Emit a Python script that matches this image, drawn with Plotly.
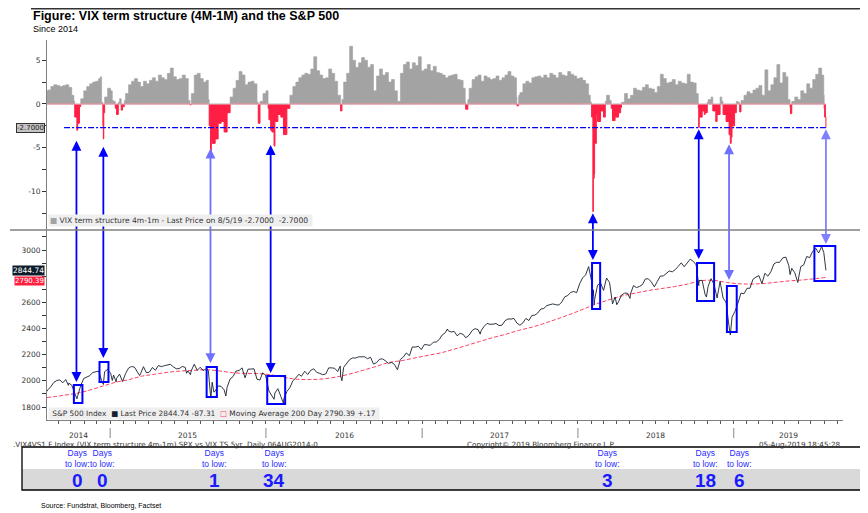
import plotly.graph_objects as go
import datetime as _dt

# ---------------- data ----------------
VIX_TS = [  # VIX term structure 4m-1m (date, value)
    ("2014-08-06", 1.5), ("2014-08-08", 1.6), ("2014-08-15", 2.0), ("2014-08-22", 2.2), ("2014-08-29", 2.1),
    ("2014-09-05", 2.0), ("2014-09-12", 2.1), ("2014-09-19", 2.2), ("2014-09-26", 1.9), ("2014-10-03", 1.0),
    ("2014-10-08", 0.3), ("2014-10-10", -1.5), ("2014-10-15", -3.0), ("2014-10-17", -2.2), ("2014-10-21", -0.3),
    ("2014-10-24", 0.6), ("2014-10-31", 1.5), ("2014-11-07", 2.0), ("2014-11-14", 2.3), ("2014-11-21", 2.5),
    ("2014-11-28", 2.6), ("2014-12-05", 2.9), ("2014-12-09", 3.1), ("2014-12-12", 0.2), ("2014-12-15", -2.5),
    ("2014-12-16", -4.0), ("2014-12-17", -1.0), ("2014-12-19", 0.8), ("2014-12-26", 1.8),
    ("2015-01-02", 1.5), ("2015-01-06", 0.4), ("2015-01-09", 0.3), ("2015-01-13", -0.5), ("2015-01-16", -1.2),
    ("2015-01-20", 0.2), ("2015-01-23", 0.6), ("2015-01-27", -0.7), ("2015-01-30", -0.3), ("2015-02-03", 0.4),
    ("2015-02-06", 1.2), ("2015-02-13", 2.2), ("2015-02-20", 2.6), ("2015-02-27", 2.9), ("2015-03-06", 2.5),
    ("2015-03-13", 2.0), ("2015-03-20", 2.6), ("2015-03-27", 2.3), ("2015-04-03", 2.7), ("2015-04-10", 3.0),
    ("2015-04-17", 2.6), ("2015-04-24", 3.3), ("2015-05-01", 3.0), ("2015-05-08", 2.8), ("2015-05-15", 3.5),
    ("2015-05-22", 4.1), ("2015-05-29", 3.1), ("2015-06-05", 2.8), ("2015-06-12", 2.9), ("2015-06-19", 3.3),
    ("2015-06-26", 2.9), ("2015-07-03", 0.4), ("2015-07-07", -0.1), ("2015-07-10", 1.2), ("2015-07-17", 3.3),
    ("2015-07-24", 3.5), ("2015-07-31", 2.9), ("2015-08-07", 2.5), ("2015-08-14", 2.7), ("2015-08-19", 0.5),
    ("2015-08-21", -2.5), ("2015-08-24", -5.8), ("2015-08-26", -4.2), ("2015-08-28", -4.5), ("2015-09-04", -4.0),
    ("2015-09-11", -2.2), ("2015-09-18", -2.0), ("2015-09-25", -3.2), ("2015-10-02", -1.0), ("2015-10-09", 0.8),
    ("2015-10-16", 1.8), ("2015-10-23", 2.7), ("2015-10-30", 3.7), ("2015-11-06", 3.3), ("2015-11-13", 2.2),
    ("2015-11-20", 2.5), ("2015-11-27", 2.6), ("2015-12-04", 2.3), ("2015-12-11", 0.2), ("2015-12-14", -2.2),
    ("2015-12-18", 0.3), ("2015-12-25", 1.2),
    ("2016-01-01", 1.5), ("2016-01-06", -0.5), ("2016-01-08", -1.8), ("2016-01-12", -3.0), ("2016-01-15", -3.2),
    ("2016-01-20", -4.8), ("2016-01-22", -2.0), ("2016-01-29", -1.2), ("2016-02-05", -1.5), ("2016-02-11", -3.5),
    ("2016-02-19", -0.5), ("2016-02-26", 1.0), ("2016-03-04", 2.0), ("2016-03-11", 2.5), ("2016-03-18", 3.0),
    ("2016-03-25", 3.3), ("2016-04-01", 3.5), ("2016-04-08", 3.4), ("2016-04-15", 4.0), ("2016-04-22", 5.4),
    ("2016-04-29", 3.8), ("2016-05-06", 3.3), ("2016-05-13", 2.9), ("2016-05-20", 3.0), ("2016-05-27", 4.0),
    ("2016-06-03", 3.5), ("2016-06-10", 2.6), ("2016-06-17", 1.0), ("2016-06-24", -0.8), ("2016-06-27", 0.5),
    ("2016-07-01", 2.5), ("2016-07-08", 3.5), ("2016-07-15", 6.6), ("2016-07-22", 5.0), ("2016-07-29", 4.2),
    ("2016-08-05", 4.7), ("2016-08-12", 5.3), ("2016-08-19", 5.0), ("2016-08-26", 4.2), ("2016-09-02", 4.5),
    ("2016-09-09", 1.5), ("2016-09-16", 3.2), ("2016-09-23", 4.0), ("2016-09-30", 3.3), ("2016-10-07", 3.6),
    ("2016-10-14", 2.5), ("2016-10-21", 2.8), ("2016-10-28", 1.5), ("2016-11-04", 0.3), ("2016-11-11", 3.5),
    ("2016-11-18", 4.5), ("2016-11-25", 4.8), ("2016-12-02", 4.0), ("2016-12-09", 4.7), ("2016-12-16", 4.4),
    ("2016-12-23", 5.4), ("2016-12-30", 3.8),
    ("2017-01-06", 4.0), ("2017-01-13", 4.5), ("2017-01-20", 3.8), ("2017-01-27", 4.3), ("2017-02-03", 3.6),
    ("2017-02-10", 3.5), ("2017-02-17", 3.3), ("2017-02-24", 3.0), ("2017-03-03", 3.2), ("2017-03-10", 3.3),
    ("2017-03-17", 3.4), ("2017-03-24", 2.8), ("2017-03-31", 2.7), ("2017-04-07", 1.8), ("2017-04-12", 0.2),
    ("2017-04-13", -0.6), ("2017-04-18", 0.5), ("2017-04-21", 1.8), ("2017-04-28", 2.8), ("2017-05-05", 3.1),
    ("2017-05-12", 3.3), ("2017-05-19", 2.6), ("2017-05-26", 3.2), ("2017-06-02", 3.0), ("2017-06-09", 2.8),
    ("2017-06-16", 2.9), ("2017-06-23", 3.2), ("2017-06-30", 2.7), ("2017-07-07", 3.0), ("2017-07-14", 3.3),
    ("2017-07-21", 3.7), ("2017-07-28", 3.2), ("2017-08-04", 3.0), ("2017-08-10", 0.8), ("2017-08-11", -0.2),
    ("2017-08-15", 1.0), ("2017-08-18", 1.3), ("2017-08-25", 2.3), ("2017-09-01", 2.6), ("2017-09-08", 2.4),
    ("2017-09-15", 3.0), ("2017-09-22", 3.1), ("2017-09-29", 3.2), ("2017-10-06", 3.0), ("2017-10-13", 3.3),
    ("2017-10-20", 3.0), ("2017-10-27", 3.5), ("2017-11-03", 3.3), ("2017-11-10", 3.0), ("2017-11-17", 3.6),
    ("2017-11-24", 3.3), ("2017-12-01", 3.2), ("2017-12-08", 3.7), ("2017-12-15", 3.4), ("2017-12-22", 3.2),
    ("2017-12-29", 2.9),
    ("2018-01-05", 3.0), ("2018-01-12", 2.7), ("2018-01-19", 2.3), ("2018-01-26", 1.0), ("2018-01-30", 0.2),
    ("2018-02-02", -1.5), ("2018-02-05", -12.3), ("2018-02-06", -8.5), ("2018-02-08", -8.0), ("2018-02-09", -4.5),
    ("2018-02-13", -1.2), ("2018-02-16", -2.0), ("2018-02-23", -0.8), ("2018-03-02", -1.5), ("2018-03-06", 0.3),
    ("2018-03-09", 1.0), ("2018-03-16", 0.4), ("2018-03-20", -0.5), ("2018-03-23", -1.9), ("2018-03-29", -1.5),
    ("2018-04-06", -1.0), ("2018-04-11", -0.4), ("2018-04-13", 0.2), ("2018-04-20", 1.2), ("2018-04-27", 0.6),
    ("2018-05-04", 1.0), ("2018-05-11", 1.8), ("2018-05-18", 1.6), ("2018-05-25", 1.5), ("2018-06-01", 1.9),
    ("2018-06-08", 2.2), ("2018-06-15", 1.8), ("2018-06-22", 1.7), ("2018-06-29", 1.3), ("2018-07-06", 2.0),
    ("2018-07-13", 3.4), ("2018-07-20", 2.9), ("2018-07-27", 2.4), ("2018-08-03", 2.5), ("2018-08-10", 2.8),
    ("2018-08-17", 2.2), ("2018-08-24", 2.6), ("2018-08-31", 2.4), ("2018-09-07", 2.3), ("2018-09-14", 3.4),
    ("2018-09-21", 2.5), ("2018-09-28", 2.4), ("2018-10-05", 1.2), ("2018-10-10", -0.5), ("2018-10-11", -2.7),
    ("2018-10-12", -1.5), ("2018-10-19", -0.8), ("2018-10-24", -1.2), ("2018-10-26", -1.0), ("2018-10-31", 0.2),
    ("2018-11-02", 0.5), ("2018-11-09", 0.8), ("2018-11-13", -0.8), ("2018-11-20", -2.0), ("2018-11-23", -1.2),
    ("2018-11-30", 0.8), ("2018-12-04", 0.3), ("2018-12-07", -1.2), ("2018-12-14", -2.0), ("2018-12-21", -3.5),
    ("2018-12-24", -4.5), ("2018-12-26", -3.8), ("2018-12-28", -2.5),
    ("2019-01-03", -1.0), ("2019-01-07", 0.3), ("2019-01-11", 0.2), ("2019-01-15", -0.9), ("2019-01-18", 0.4),
    ("2019-01-25", 1.0), ("2019-02-01", 1.4), ("2019-02-08", 1.2), ("2019-02-15", 1.6), ("2019-02-22", 1.8),
    ("2019-03-01", 2.1), ("2019-03-08", 1.0), ("2019-03-15", 3.9), ("2019-03-22", 1.5), ("2019-03-29", 2.2),
    ("2019-04-05", 3.0), ("2019-04-12", 4.5), ("2019-04-19", 2.4), ("2019-04-26", 3.6), ("2019-05-03", 3.1),
    ("2019-05-08", 0.5), ("2019-05-13", -0.4), ("2019-05-14", -1.1), ("2019-05-17", 0.3), ("2019-05-24", 0.8),
    ("2019-05-31", 0.5), ("2019-06-07", 1.5), ("2019-06-14", 1.2), ("2019-06-21", 2.3), ("2019-06-28", 1.8),
    ("2019-07-05", 2.8), ("2019-07-12", 3.4), ("2019-07-19", 4.1), ("2019-07-26", 3.3), ("2019-07-31", 1.0),
    ("2019-08-01", -0.5), ("2019-08-02", -1.5), ("2019-08-05", -2.7),
]

SPX = [  # S&P 500 last price (date, value)
    ("2014-08-06", 1920), ("2014-08-08", 1931), ("2014-08-15", 1955), ("2014-08-22", 1988), ("2014-08-29", 2003),
    ("2014-09-05", 2007), ("2014-09-12", 1985), ("2014-09-19", 2010), ("2014-09-25", 1966), ("2014-09-26", 1982),
    ("2014-10-03", 1967), ("2014-10-10", 1906), ("2014-10-13", 1874), ("2014-10-15", 1862), ("2014-10-17", 1886),
    ("2014-10-24", 1964), ("2014-10-31", 2018), ("2014-11-07", 2031), ("2014-11-14", 2039), ("2014-11-21", 2063),
    ("2014-11-28", 2067), ("2014-12-05", 2075), ("2014-12-12", 2002), ("2014-12-16", 1972), ("2014-12-19", 2070),
    ("2014-12-26", 2088),
    ("2015-01-02", 2058), ("2015-01-06", 2003), ("2015-01-09", 2044), ("2015-01-15", 1992), ("2015-01-16", 2019),
    ("2015-01-23", 2051), ("2015-01-30", 1995), ("2015-02-06", 2055), ("2015-02-13", 2097), ("2015-02-20", 2110),
    ("2015-02-27", 2104), ("2015-03-06", 2071), ("2015-03-11", 2040), ("2015-03-13", 2053), ("2015-03-20", 2108),
    ("2015-03-27", 2061), ("2015-04-03", 2067), ("2015-04-10", 2102), ("2015-04-17", 2081), ("2015-04-24", 2117),
    ("2015-05-01", 2108), ("2015-05-08", 2116), ("2015-05-15", 2123), ("2015-05-22", 2126), ("2015-05-29", 2107),
    ("2015-06-05", 2092), ("2015-06-12", 2094), ("2015-06-19", 2110), ("2015-06-26", 2102), ("2015-06-29", 2058),
    ("2015-07-02", 2076), ("2015-07-08", 2047), ("2015-07-10", 2077), ("2015-07-17", 2127), ("2015-07-24", 2080),
    ("2015-07-31", 2104), ("2015-08-07", 2078), ("2015-08-14", 2092), ("2015-08-19", 2079), ("2015-08-21", 1971),
    ("2015-08-24", 1893), ("2015-08-25", 1868), ("2015-08-28", 1989), ("2015-09-01", 1914), ("2015-09-04", 1921),
    ("2015-09-11", 1961), ("2015-09-18", 1958), ("2015-09-25", 1931), ("2015-09-29", 1884), ("2015-10-02", 1951),
    ("2015-10-09", 2014), ("2015-10-16", 2033), ("2015-10-23", 2075), ("2015-10-30", 2079), ("2015-11-06", 2099),
    ("2015-11-13", 2023), ("2015-11-20", 2089), ("2015-11-27", 2090), ("2015-12-04", 2092), ("2015-12-11", 2012),
    ("2015-12-18", 2006), ("2015-12-24", 2061), ("2015-12-31", 2044),
    ("2016-01-08", 1922), ("2016-01-15", 1880), ("2016-01-20", 1859), ("2016-01-22", 1907), ("2016-01-29", 1940),
    ("2016-02-05", 1880), ("2016-02-11", 1829), ("2016-02-12", 1865), ("2016-02-19", 1918), ("2016-02-26", 1948),
    ("2016-03-04", 2000), ("2016-03-11", 2022), ("2016-03-18", 2050), ("2016-03-24", 2035), ("2016-04-01", 2073),
    ("2016-04-08", 2048), ("2016-04-15", 2081), ("2016-04-22", 2092), ("2016-04-29", 2065), ("2016-05-06", 2057),
    ("2016-05-13", 2047), ("2016-05-20", 2052), ("2016-05-27", 2099), ("2016-06-03", 2099), ("2016-06-10", 2096),
    ("2016-06-17", 2071), ("2016-06-23", 2113), ("2016-06-24", 2037), ("2016-06-27", 2001), ("2016-07-01", 2103),
    ("2016-07-08", 2130), ("2016-07-15", 2162), ("2016-07-22", 2175), ("2016-07-29", 2174), ("2016-08-05", 2183),
    ("2016-08-12", 2184), ("2016-08-19", 2184), ("2016-08-26", 2169), ("2016-09-02", 2180), ("2016-09-09", 2128),
    ("2016-09-16", 2139), ("2016-09-23", 2165), ("2016-09-30", 2168), ("2016-10-07", 2153), ("2016-10-14", 2133),
    ("2016-10-21", 2141), ("2016-10-28", 2126), ("2016-11-04", 2085), ("2016-11-11", 2164), ("2016-11-18", 2182),
    ("2016-11-25", 2213), ("2016-12-02", 2192), ("2016-12-09", 2259), ("2016-12-16", 2258), ("2016-12-23", 2264),
    ("2016-12-30", 2239),
    ("2017-01-06", 2277), ("2017-01-13", 2275), ("2017-01-20", 2271), ("2017-01-27", 2295), ("2017-02-03", 2297),
    ("2017-02-10", 2316), ("2017-02-17", 2351), ("2017-02-24", 2367), ("2017-03-01", 2396), ("2017-03-03", 2383),
    ("2017-03-10", 2373), ("2017-03-17", 2378), ("2017-03-24", 2344), ("2017-03-31", 2363), ("2017-04-07", 2355),
    ("2017-04-13", 2329), ("2017-04-21", 2349), ("2017-04-28", 2384), ("2017-05-05", 2399), ("2017-05-12", 2391),
    ("2017-05-17", 2357), ("2017-05-19", 2382), ("2017-05-26", 2416), ("2017-06-02", 2439), ("2017-06-09", 2432),
    ("2017-06-16", 2433), ("2017-06-23", 2438), ("2017-06-30", 2423), ("2017-07-07", 2425), ("2017-07-14", 2459),
    ("2017-07-21", 2473), ("2017-07-28", 2472), ("2017-08-04", 2477), ("2017-08-11", 2441), ("2017-08-18", 2425),
    ("2017-08-25", 2443), ("2017-09-01", 2477), ("2017-09-08", 2461), ("2017-09-15", 2500), ("2017-09-22", 2502),
    ("2017-09-29", 2519), ("2017-10-06", 2549), ("2017-10-13", 2553), ("2017-10-20", 2575), ("2017-10-27", 2581),
    ("2017-11-03", 2588), ("2017-11-10", 2582), ("2017-11-17", 2579), ("2017-11-24", 2602), ("2017-12-01", 2642),
    ("2017-12-08", 2652), ("2017-12-15", 2676), ("2017-12-22", 2683), ("2017-12-29", 2674),
    ("2018-01-05", 2743), ("2018-01-12", 2787), ("2018-01-19", 2810), ("2018-01-26", 2873), ("2018-02-02", 2762),
    ("2018-02-05", 2649), ("2018-02-06", 2696), ("2018-02-08", 2581), ("2018-02-09", 2620), ("2018-02-16", 2732),
    ("2018-02-23", 2747), ("2018-03-02", 2691), ("2018-03-09", 2786), ("2018-03-16", 2752), ("2018-03-23", 2588),
    ("2018-03-29", 2641), ("2018-04-02", 2582), ("2018-04-06", 2604), ("2018-04-13", 2656), ("2018-04-20", 2670),
    ("2018-04-27", 2670), ("2018-05-03", 2630), ("2018-05-04", 2663), ("2018-05-11", 2728), ("2018-05-18", 2713),
    ("2018-05-25", 2721), ("2018-06-01", 2735), ("2018-06-08", 2779), ("2018-06-15", 2780), ("2018-06-22", 2755),
    ("2018-06-29", 2718), ("2018-07-06", 2760), ("2018-07-13", 2801), ("2018-07-20", 2802), ("2018-07-27", 2819),
    ("2018-08-03", 2840), ("2018-08-10", 2833), ("2018-08-17", 2850), ("2018-08-24", 2875), ("2018-08-31", 2902),
    ("2018-09-07", 2872), ("2018-09-14", 2905), ("2018-09-21", 2930), ("2018-09-28", 2914), ("2018-10-05", 2886),
    ("2018-10-11", 2728), ("2018-10-12", 2767), ("2018-10-19", 2768), ("2018-10-26", 2659), ("2018-10-29", 2641),
    ("2018-11-02", 2723), ("2018-11-09", 2781), ("2018-11-16", 2736), ("2018-11-23", 2633), ("2018-11-30", 2760),
    ("2018-12-07", 2633), ("2018-12-14", 2600), ("2018-12-21", 2417), ("2018-12-24", 2351), ("2018-12-28", 2486),
    ("2019-01-04", 2532), ("2019-01-11", 2596), ("2019-01-18", 2671), ("2019-01-25", 2665), ("2019-02-01", 2707),
    ("2019-02-08", 2708), ("2019-02-15", 2776), ("2019-02-22", 2793), ("2019-03-01", 2804), ("2019-03-08", 2743),
    ("2019-03-15", 2822), ("2019-03-22", 2800), ("2019-03-29", 2834), ("2019-04-05", 2893), ("2019-04-12", 2907),
    ("2019-04-18", 2905), ("2019-04-26", 2940), ("2019-05-03", 2946), ("2019-05-10", 2881), ("2019-05-13", 2812),
    ("2019-05-17", 2860), ("2019-05-24", 2826), ("2019-05-31", 2752), ("2019-06-07", 2873), ("2019-06-14", 2887),
    ("2019-06-21", 2950), ("2019-06-28", 2942), ("2019-07-05", 2990), ("2019-07-12", 3014), ("2019-07-19", 2977),
    ("2019-07-26", 3026), ("2019-07-31", 2980), ("2019-08-02", 2932), ("2019-08-05", 2844.74),
]

MA200 = [  # 200-day moving average (date, value)
    ("2014-08-06", 1872), ("2014-09-15", 1890), ("2014-10-15", 1905), ("2014-11-15", 1930), ("2014-12-15", 1960),
    ("2015-01-15", 1990), ("2015-02-15", 2010), ("2015-03-15", 2035), ("2015-04-15", 2050), ("2015-05-15", 2065),
    ("2015-06-15", 2075), ("2015-07-15", 2080), ("2015-08-15", 2085), ("2015-09-15", 2075), ("2015-10-15", 2062),
    ("2015-11-15", 2057), ("2015-12-15", 2055), ("2016-01-15", 2045), ("2016-02-15", 2025), ("2016-03-15", 2012),
    ("2016-04-15", 2010), ("2016-05-15", 2015), ("2016-06-15", 2030), ("2016-07-15", 2052), ("2016-08-15", 2080),
    ("2016-09-15", 2110), ("2016-10-15", 2140), ("2016-11-15", 2155), ("2016-12-15", 2175), ("2017-01-15", 2195),
    ("2017-02-15", 2215), ("2017-03-15", 2240), ("2017-04-15", 2270), ("2017-05-15", 2300), ("2017-06-15", 2330),
    ("2017-07-15", 2355), ("2017-08-15", 2385), ("2017-09-15", 2410), ("2017-10-15", 2440), ("2017-11-15", 2475),
    ("2017-12-15", 2510), ("2018-01-15", 2550), ("2018-02-15", 2590), ("2018-03-15", 2620), ("2018-04-15", 2650),
    ("2018-05-15", 2670), ("2018-06-15", 2690), ("2018-07-15", 2705), ("2018-08-15", 2720), ("2018-09-15", 2740),
    ("2018-10-15", 2765), ("2018-11-15", 2768), ("2018-12-15", 2752), ("2019-01-15", 2742), ("2019-02-15", 2740),
    ("2019-03-15", 2745), ("2019-04-15", 2755), ("2019-05-15", 2765), ("2019-06-15", 2772), ("2019-07-15", 2782),
    ("2019-08-05", 2790.39),
]

THRESHOLD = -2.7
SPX_CHANGE = "-87.31"
MA_CHANGE = "+.17"

# arrows: date, VIX level at top tip, S&P level at bottom tip
ARROW_DATES = ["2014-10-14", "2014-12-16", "2015-08-24", "2016-01-12",
               "2018-02-05", "2018-10-11", "2018-12-21", "2019-08-05"]
ARROW_VIX = [-4.2, -4.9, -5.1, -4.7, -12.5, -2.9, -4.6, -2.9]
ARROW_SPX = [1991, 2175, 2136, 2060, 2924, 2931, 2771, 3046]
ARROW_COLORS = ["#0000ff", "#0000ff", "#7070ff", "#0000ff", "#0000ff", "#0000ff", "#7070ff", "#8080ff"]

# highlight boxes: date range, price range
BOX_X0 = ["2014-10-08", "2014-12-07", "2015-08-15", "2016-01-04", "2018-02-03", "2018-10-07", "2018-12-16", "2019-07-09"]
BOX_X1 = ["2014-10-28", "2014-12-28", "2015-09-08", "2016-02-15", "2018-02-22", "2018-11-16", "2019-01-08", "2019-08-27"]
BOX_Y0 = [1831, 1991, 1876, 1823, 2549, 2610, 2373, 2763]
BOX_Y1 = [1968, 2144, 2106, 2037, 2901, 2901, 2725, 3031]

DAYS_TO_LOW = [0, 0, 1, 34, 3, 18, 6]
YEARS = [2014, 2015, 2016, 2017, 2018, 2019]

# ---------------- layout helpers ----------------
# page body has an 8px margin, so the figure is drawn 8px smaller and offset
OFF = 8
W, H = 868 - OFF, 513 - OFF
L, R, T, B = 47 - OFF, 25, 40 - OFF, 93
PW, PH = W - L - R, H - T - B
X_RANGE = ["2014-08-06", "2019-09-14"]
TOP_RANGE = [-14.4, 7.31]
BOT_RANGE = [1700.6, 3152.9]
TOP_DOM = [0.5, 1.0]
BOT_DOM = [0.0, 0.5]


def py(y):  # reference-pixel y -> paper
    return (H - B - (y - OFF)) / PH


def px(x):  # reference-pixel x -> paper
    return ((x - OFF) - L) / PW


def vix_paper(v):
    return TOP_DOM[0] + (v - TOP_RANGE[0]) / (TOP_RANGE[1] - TOP_RANGE[0]) * (TOP_DOM[1] - TOP_DOM[0])


def spx_paper(v):
    return BOT_DOM[0] + (v - BOT_RANGE[0]) / (BOT_RANGE[1] - BOT_RANGE[0]) * (BOT_DOM[1] - BOT_DOM[0])


vix_dates = [d for d, _ in VIX_TS]
vix_vals = [v for _, v in VIX_TS]
vix_pos = [max(v, 0) for v in vix_vals]
vix_neg = [min(v, 0) for v in vix_vals]
spx_dates = [d for d, _ in SPX]
spx_vals = [v for _, v in SPX]
ma_dates = [d for d, _ in MA200]
ma_vals = [v for _, v in MA200]

GRAY = "#a3a3a3"
RED = "#ff1f44"
BLUE = "#0000ff"
FONT = "DejaVu Sans"
NARROW = "Liberation Sans Narrow, Arial Narrow, Liberation Sans"

fig = go.Figure()
fig.add_trace(go.Scatter(x=vix_dates, y=vix_pos, mode="lines", line=dict(color=GRAY, width=0.6, shape="hv"),
                         fill="tozeroy", fillcolor=GRAY, xaxis="x", yaxis="y2", hoverinfo="skip"))
fig.add_trace(go.Scatter(x=vix_dates, y=vix_neg, mode="lines", line=dict(color=RED, width=1, shape="hv"),
                         fill="tozeroy", fillcolor=RED, xaxis="x", yaxis="y2", hoverinfo="skip"))
fig.add_trace(go.Scatter(x=ma_dates, y=ma_vals, mode="lines",
                         line=dict(color="#ff4060", width=1, dash="4px,2px", shape="spline"),
                         xaxis="x", yaxis="y"))
fig.add_trace(go.Scatter(x=spx_dates, y=spx_vals, mode="lines", line=dict(color="#16202c", width=0.9),
                         xaxis="x", yaxis="y"))

shapes = []
annotations = []


def note(xr, yr, text, size, family=FONT, color="#333333", xanchor="center", **kw):
    annotations.append(dict(x=px(xr), xref="paper", y=py(yr), yref="paper", text=text, showarrow=False,
                            xanchor=xanchor, yanchor="middle", font=dict(family=family, size=size, color=color), **kw))


# light baseline at zero on the top panel
shapes.append(dict(type="line", xref="x", yref="y2", x0=vix_dates[0], x1=vix_dates[-1], y0=0, y1=0,
                   line=dict(color="#cfcfcf", width=1.2), layer="above"))
# threshold line on top panel
shapes.append(dict(type="line", xref="x", yref="y2", x0="2014-09-15", x1=vix_dates[-1], y0=THRESHOLD, y1=THRESHOLD,
                   line=dict(color=BLUE, width=1.3, dash="6px,2px,2px,2px")))
# highlight boxes
for x0, x1, y0, y1 in zip(BOX_X0, BOX_X1, BOX_Y0, BOX_Y1):
    shapes.append(dict(type="rect", xref="x", yref="y", x0=x0, x1=x1, y0=y0, y1=y1,
                       line=dict(color=BLUE, width=2)))
# arrows: shaft as shape, heads as short annotations
for d, v, s, c in zip(ARROW_DATES, ARROW_VIX, ARROW_SPX, ARROW_COLORS):
    shapes.append(dict(type="line", xref="x", yref="paper", x0=d, x1=d, y0=spx_paper(s) + 0.012,
                       y1=vix_paper(v) - 0.012, line=dict(color=c, width=1.8)))
    annotations.append(dict(x=d, xref="x", y=s, yref="y", ax=0, ay=-9, text="", showarrow=True,
                            arrowhead=2, arrowsize=1.1, arrowwidth=1.8, arrowcolor=c))
    annotations.append(dict(x=d, xref="x", y=v, yref="y2", ax=0, ay=9, text="", showarrow=True,
                            arrowhead=2, arrowsize=1.1, arrowwidth=1.8, arrowcolor=c))

# panel separator, header rule
shapes.append(dict(type="line", xref="paper", yref="paper", x0=px(10), x1=px(860), y0=0.5, y1=0.5,
                   line=dict(color="#808080", width=1.5)))
shapes.append(dict(type="line", xref="paper", yref="paper", x0=px(31), x1=px(860), y0=py(8.8), y1=py(8.8),
                   line=dict(color="#333333", width=1.5)))
# year separators on x axis
for yr in YEARS[1:]:
    shapes.append(dict(type="line", xref="x", yref="paper", x0=f"{yr}-01-01", x1=f"{yr}-01-01",
                       y0=py(428), y1=py(438), line=dict(color="#888888", width=1)))
# year labels centred in visible part of each year
x_lo = _dt.date.fromisoformat(X_RANGE[0])
x_hi = _dt.date.fromisoformat(X_RANGE[1])
for yr in YEARS:
    a = max(_dt.date(yr, 1, 1), x_lo)
    b = min(_dt.date(yr + 1, 1, 1), x_hi)
    mid = a + (b - a) / 2
    annotations.append(dict(x=mid.isoformat(), xref="x", y=py(435), yref="paper", text=str(yr), showarrow=False,
                            yanchor="middle", font=dict(family=FONT, size=7.5, color="#333333")))

# table
shapes.append(dict(type="rect", xref="paper", yref="paper", x0=px(22), x1=px(862), y0=py(469), y1=py(490),
                   fillcolor="#d9d9d9", line=dict(width=0), layer="below"))
shapes.append(dict(type="rect", xref="paper", yref="paper", x0=px(22), x1=px(862), y0=py(447), y1=py(490),
                   line=dict(color="#000000", width=1.3)))
TABLE_X = [77, 102, 214, 274, 607, 705, 739]
for xx, n in zip(TABLE_X, DAYS_TO_LOW):
    note(xx, 458.5, "Days<br>to low:", 8.5, family=NARROW, color="#2a2aff")
    note(xx, 480, f"<b>{n}</b>", 19, family=NARROW, color="#1a1aff")

# legends inside panels
note(48, 220.5, f"<span style='color:{GRAY}'>■</span> VIX term structure 4m-1m - Last Price on 8/5/19 "
                f"{vix_vals[-1]:.4f}  {vix_vals[-1]:.4f} ", 7.6, xanchor="left", bgcolor="#efefef")
note(48, 413.5, f" S&P 500 Index  <span style='color:#16202c'>■</span> Last Price {spx_vals[-1]:.2f} {SPX_CHANGE}  "
                f"<span style='color:#ff4060'>□</span> Moving Average 200 Day {ma_vals[-1]:.2f} {MA_CHANGE} ",
     7.4, xanchor="left", bgcolor="#efefef")

# price tags on left axis
annotations.append(dict(x=px(44.5), xref="paper", y=THRESHOLD, yref="y2", xanchor="right", yanchor="middle",
                        text=f"{vix_vals[-1]:.4f}", showarrow=False, bgcolor="#c4c4c4", bordercolor="#333333",
                        borderwidth=1, borderpad=0, font=dict(family=FONT, size=7, color="#222222")))
annotations.append(dict(x=px(44.5), xref="paper", y=ma_vals[-1] - 30, yref="y", xanchor="right", yanchor="middle",
                        text=f"{ma_vals[-1]:.2f}", showarrow=False, bgcolor="#ff2040", borderpad=0,
                        font=dict(family=FONT, size=7, color="#ffffff")))
annotations.append(dict(x=px(44.5), xref="paper", y=spx_vals[-1], yref="y", xanchor="right", yanchor="middle",
                        text=f"{spx_vals[-1]:.2f}", showarrow=False, bgcolor="#0d1b2a", borderpad=0,
                        font=dict(family=FONT, size=7.5, color="#ffffff")))

# titles and footer
note(31, 16, "<b>Figure: VIX term structure (4M-1M) and the S&P 500</b>", 12.5, family="Liberation Sans",
     color="#000000", xanchor="left")
note(31, 29, "Since 2014", 9, family="Liberation Sans", color="#000000", xanchor="left")
note(11, 444, ".VIX4VS1 F Index (VIX term structure 4m-1m) SPX vs VIX TS 5yr  Daily 06AUG2014-0", 7.2,
     xanchor="left")
note(541, 444, "Copyright© 2019 Bloomberg Finance L.P.", 7.2)
note(842, 444, "05-Aug-2019 18:45:28", 7.2, xanchor="right")
note(39, 506, "Source: Fundstrat, Bloomberg, Factset", 7, family="Liberation Sans", color="#000000",
     xanchor="left")

top_ticks = [-12.5, -10, -7.5, -5, -2.5, 0, 2.5, 5]
bot_ticks = list(range(1800, 3101, 100))

fig.update_layout(
    width=W, height=H, margin=dict(l=L, r=R, t=T, b=B),
    paper_bgcolor="white", plot_bgcolor="white", showlegend=False,
    xaxis=dict(type="date", range=X_RANGE, anchor="y", showgrid=False, zeroline=False,
               showline=True, linecolor="#808080", linewidth=1, ticks="outside", ticklen=3,
               tickcolor="#555555", dtick="M1", tick0="2014-01-01", showticklabels=False),
    yaxis=dict(domain=BOT_DOM, range=BOT_RANGE, anchor="x", showgrid=False, zeroline=False,
               showline=True, linecolor="#808080", linewidth=1, ticks="outside", ticklen=4,
               tickcolor="#333333", tickvals=bot_ticks,
               ticktext=[str(v) if v % 200 == 0 and v != 2800 else "" for v in bot_ticks],
               tickfont=dict(family=FONT, size=7.5, color="#333333")),
    yaxis2=dict(domain=TOP_DOM, range=TOP_RANGE, anchor="x", showgrid=False, zeroline=False,
                showline=True, linecolor="#808080", linewidth=1, ticks="outside", ticklen=4,
                tickcolor="#333333", tickvals=top_ticks,
                ticktext=[f"{v:g}" if v % 5 == 0 else "" for v in top_ticks],
                tickfont=dict(family=FONT, size=7.5, color="#333333")),
    shapes=shapes, annotations=annotations,
)

fig.write_html("out.html")
